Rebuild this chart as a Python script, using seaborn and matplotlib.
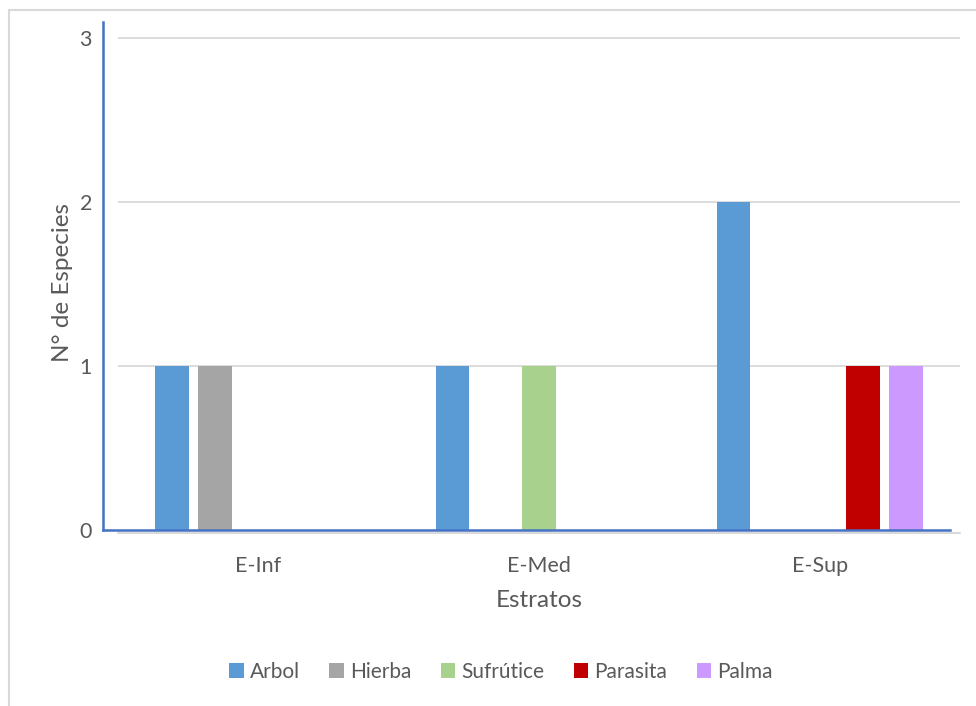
import numpy as np
import pandas as pd
import matplotlib.pyplot as plt
import seaborn as sns
from matplotlib.lines import Line2D

# ----------------------------
# Datos
# ----------------------------
estratos = ['E-Inf', 'E-Med', 'E-Sup']
formas = ['Arbol', 'Hierba', 'Sufrútice', 'Parasita', 'Palma']
arbol = [1, 1, 2]
hierba = [1, 0, 0]
sufrutice = [0, 1, 0]
parasita = [0, 0, 1]
palma = [0, 0, 1]
y_ticks = [0, 1, 2, 3]

colores = ['#5B9BD5', '#A5A5A5', '#A9D18E', '#C00000', '#CC99FF']
azul_eje = '#4472C4'
gris_texto = '#595959'
gris_linea = '#D9D9D9'

df = pd.DataFrame({
    'Estrato': estratos * len(formas),
    'Forma': np.repeat(formas, len(estratos)),
    'N': arbol + hierba + sufrutice + parasita + palma,
})

# ----------------------------
# Figura
# ----------------------------
sns.set_style('white')
plt.rcParams['font.family'] = ['Lato', 'DejaVu Sans']

W, H = 976, 706
fig = plt.figure(figsize=(W / 100, H / 100), dpi=100)

# marco del gráfico
fig.add_artist(Line2D([9 / W, 9 / W], [0, 1 - 10 / H], color=gris_linea, lw=1.5, transform=fig.transFigure))
fig.add_artist(Line2D([9 / W, 1], [1 - 10 / H, 1 - 10 / H], color=gris_linea, lw=1.5, transform=fig.transFigure))

ax_l, ax_r, ax_b, ax_t = 103, 960, 530, 22
ax = fig.add_axes([ax_l / W, 1 - ax_b / H, (ax_r - ax_l) / W, (ax_b - ax_t) / H])

sns.barplot(data=df, x='Estrato', y='N', hue='Forma', hue_order=formas,
            palette=colores, saturation=1, width=0.77, gap=0.23, linewidth=0,
            ax=ax, zorder=2)

px_unit = (ax_r - 118) / 3
x_left = -0.5 - (118 - ax_l) / px_unit
ax.set_xlim(x_left, 2.5)
ax.set_ylim(0, 3 * (ax_b - ax_t) / (ax_b - 38))

# líneas de cuadrícula
ax.hlines(y_ticks[1:], -0.5, 2.5, color=gris_linea, lw=1.3, zorder=0)

# ejes
for s in ['top', 'right']:
    ax.spines[s].set_visible(False)
ax.spines['left'].set_color(azul_eje)
ax.spines['left'].set_linewidth(1.8)
ax.spines['bottom'].set_color(azul_eje)
ax.spines['bottom'].set_linewidth(1.8)
ax.spines['bottom'].set_bounds(x_left, 2.465)
ax.spines['bottom'].set_zorder(3)

# eje de categorías gris
ax.plot([-0.5, 2.5], [-3 / (ax_b - ax_t)] * 2, color=gris_linea, lw=1.5,
        transform=ax.get_xaxis_transform(), clip_on=False, zorder=1)
ax.set_xticks([-0.5, 0.5, 1.5, 2.5], minor=True)
ax.tick_params(axis='x', which='minor', length=8, width=1.5, color=gris_linea, direction='out')
ax.set_xticks(range(len(estratos)))
ax.set_xticklabels(estratos)
ax.tick_params(axis='x', which='major', length=0, pad=19, labelsize=15.5, labelcolor=gris_texto)

ax.set_yticks(y_ticks)
ax.tick_params(axis='y', length=0, pad=8, labelsize=15.5, labelcolor=gris_texto)

ax.set_xlabel('Estratos', fontsize=17.5, color=gris_texto)
ax.xaxis.set_label_coords((539 - ax_l) / (ax_r - ax_l), (ax_b - 590) / (ax_b - ax_t))
ax.set_ylabel('N° de Especies', fontsize=17.5, color=gris_texto)
ax.yaxis.set_label_coords((73 - ax_l) / (ax_r - ax_l), (ax_b - 283) / (ax_b - ax_t))

# leyenda
handles, labels = ax.get_legend_handles_labels()
if ax.get_legend() is not None:
    ax.get_legend().remove()
fig.legend(handles, labels, loc='center', bbox_to_anchor=(501 / W, 1 - 672 / H), ncol=5,
           frameon=False, handlelength=0.7, handleheight=0.7, handletextpad=0.3,
           columnspacing=1.4, fontsize=15, labelcolor=gris_texto)

fig.savefig('out.png', dpi=100)
